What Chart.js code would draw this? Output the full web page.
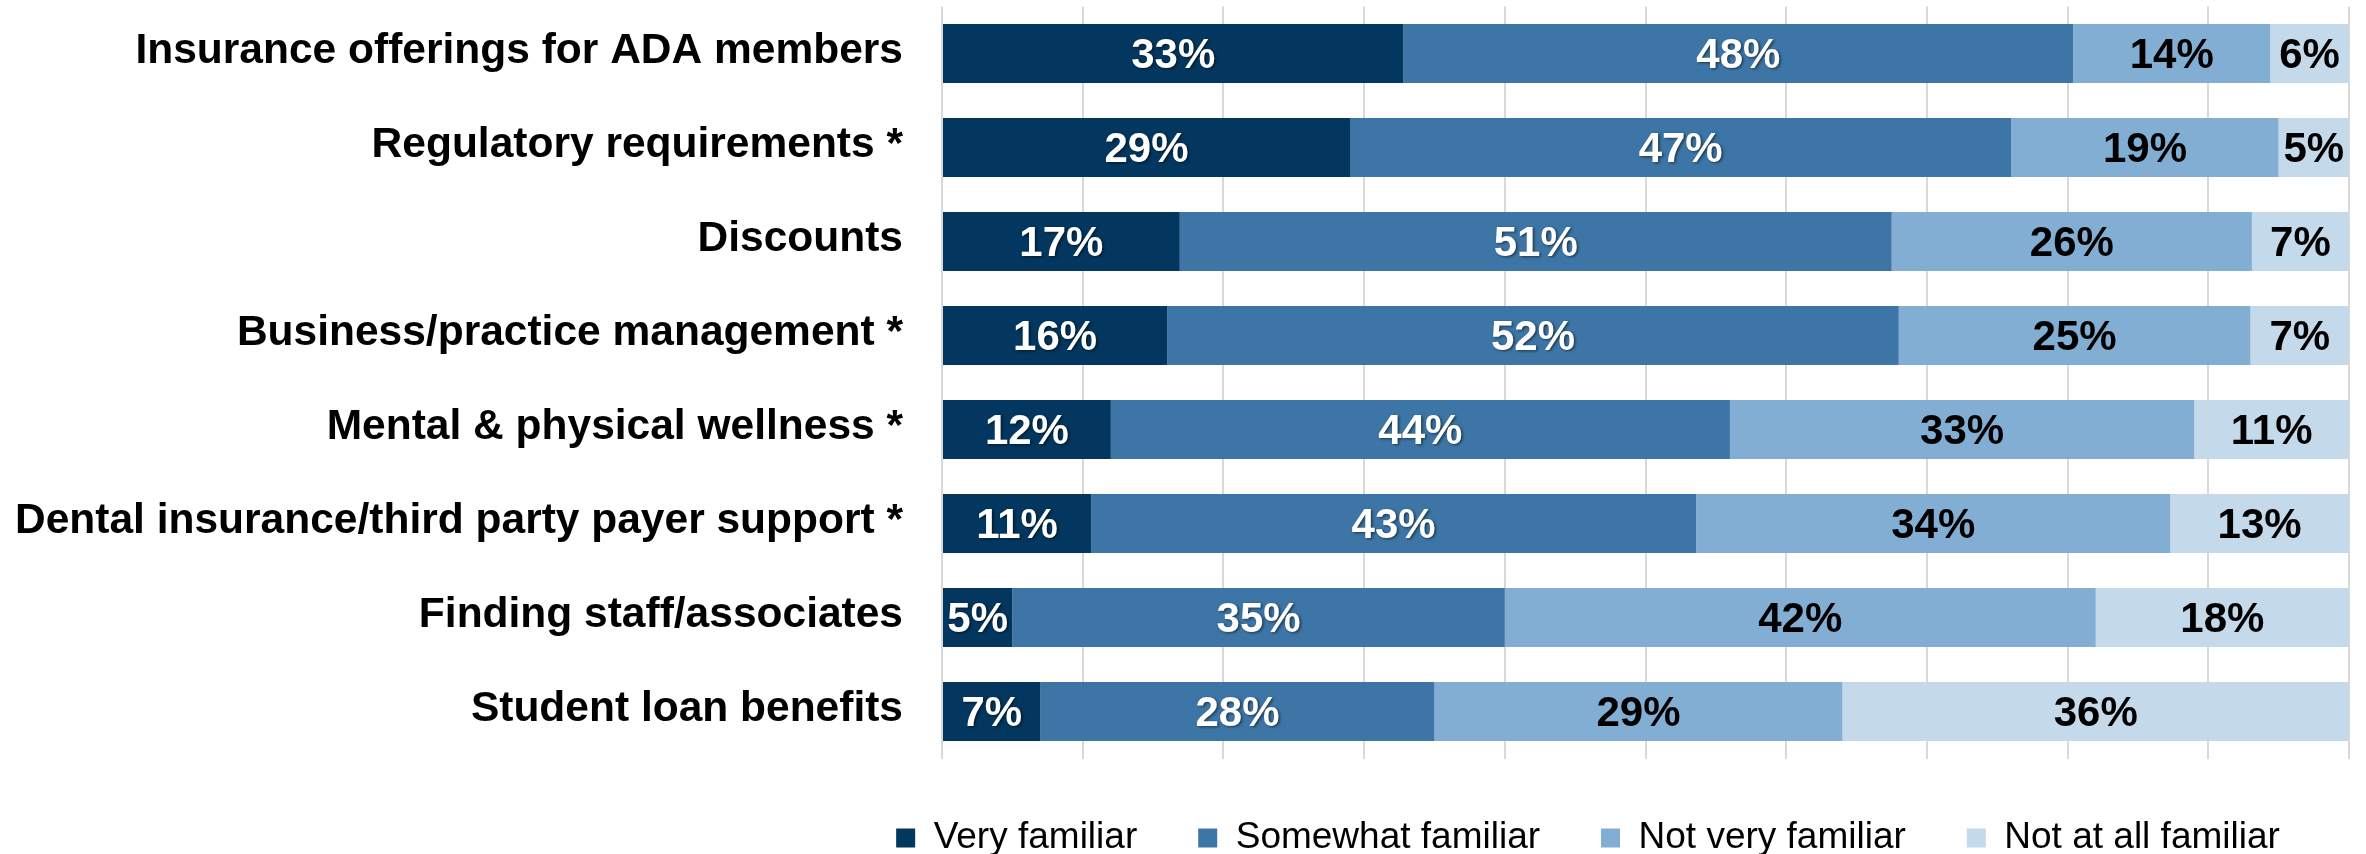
<!DOCTYPE html>
<html>
<head>
<meta charset="utf-8">
<script src="https://cdn.jsdelivr.net/npm/chart.js@4.4.1/dist/chart.umd.min.js"></script>
<style>
  html, body { margin: 0; padding: 0; background: #ffffff; }
  #wrap { width: 2366px; height: 854px; position: relative; }
</style>
</head>
<body>
<div id="wrap"><canvas id="chart" width="2366" height="854"></canvas></div>
<script>
// ---- Data ----
const categories = [
  "Insurance offerings for ADA members",
  "Regulatory requirements *",
  "Discounts",
  "Business/practice management *",
  "Mental & physical wellness *",
  "Dental insurance/third party payer support *",
  "Finding staff/associates",
  "Student loan benefits"
];
const seriesNames = ["Very familiar", "Somewhat familiar", "Not very familiar", "Not at all familiar"];
const veryFamiliar      = [32.8, 29, 16.9, 16, 12, 10.6, 5, 7];
const somewhatFamiliar  = [47.6, 47, 50.6, 52, 44, 43.0, 35, 28];
const notVeryFamiliar   = [14.0, 19, 25.6, 25, 33, 33.7, 42, 29];
const notAtAllFamiliar  = [5.6, 5, 6.9, 7, 11, 12.7, 18, 36];
const axisMin = 0;
const axisMax = 100;
const axisStep = 10;

// ---- Styles ----
const colors = ["#03375F", "#3D76A6", "#82AED3", "#C4D9EA"];
const labelColors = ["#ffffff", "#ffffff", "#000000", "#000000"];
const FONT = '"Liberation Sans", Arial, Helvetica, sans-serif';

const seriesValues = [veryFamiliar, somewhatFamiliar, notVeryFamiliar, notAtAllFamiliar];

const PLOT_LEFT = 942;
const LEGEND_LEFT = 827;

const valueLabels = {
  id: 'valueLabels',
  afterDatasetsDraw(chart) {
    const ctx = chart.ctx;
    const area = chart.chartArea;
    ctx.save();
    ctx.font = 'bold 42px ' + FONT;
    ctx.textAlign = 'center';
    ctx.textBaseline = 'middle';
    chart.data.datasets.forEach((ds, di) => {
      const meta = chart.getDatasetMeta(di);
      if (meta.hidden) return;
      meta.data.forEach((bar, i) => {
        const v = ds.data[i];
        const p = bar.getProps(['x', 'y', 'base'], true);
        const x0 = Math.max(Math.min(p.x, p.base), area.left);
        const x1 = Math.min(Math.max(p.x, p.base), area.right);
        const cx = (x0 + x1) / 2;
        if (labelColors[di] === '#ffffff') {
          ctx.shadowColor = 'rgba(0,0,0,0.55)';
          ctx.shadowBlur = 3;
          ctx.shadowOffsetX = 1.5;
          ctx.shadowOffsetY = 1.5;
        } else {
          ctx.shadowColor = 'rgba(0,0,0,0)';
          ctx.shadowBlur = 0;
          ctx.shadowOffsetX = 0;
          ctx.shadowOffsetY = 0;
        }
        ctx.fillStyle = labelColors[di];
        ctx.fillText(Math.round(v) + '%', cx, p.y + 2.5);
      });
    });
    ctx.restore();
  }
};

// shift the (centred) legend row so it sits under the plot like the original
const legendPlacement = {
  id: 'legendPlacement',
  afterLayout(chart) {
    if (chart.legend) { chart.legend.left = LEGEND_LEFT; }
  }
};

new Chart(document.getElementById('chart'), {
  type: 'bar',
  data: {
    labels: categories,
    datasets: seriesNames.map((name, i) => ({
      label: name,
      data: seriesValues[i],
      backgroundColor: colors[i],
      borderWidth: 0,
      barPercentage: 0.63,
      categoryPercentage: 1.0
    }))
  },
  options: {
    indexAxis: 'y',
    responsive: false,
    animation: false,
    devicePixelRatio: 1,
    layout: { padding: { left: 0, right: 17, top: 6.5, bottom: -12.5 } },
    scales: {
      x: {
        stacked: true,
        min: axisMin,
        max: axisMax,
        ticks: { display: false, stepSize: axisStep },
        grid: { color: '#D9D9D9', lineWidth: 2, drawTicks: false },
        border: { display: false },
        afterFit(scale) { scale.height = 0; }
      },
      y: {
        stacked: true,
        grid: { display: false, drawTicks: false },
        border: { display: false },
        ticks: {
          color: '#000000',
          padding: 39,
          labelOffset: -2,
          font: { family: FONT, size: 42.5, weight: 'bold' }
        },
        afterFit(scale) {
          scale.width = PLOT_LEFT;
          scale.paddingTop = 0;
          scale.paddingBottom = 0;
        }
      }
    },
    plugins: {
      legend: {
        position: 'bottom',
        align: 'center',
        labels: {
          color: '#000000',
          boxWidth: 19,
          boxHeight: 19,
          padding: 61,
          font: { family: FONT, size: 37 }
        }
      },
      tooltip: { enabled: false }
    }
  },
  plugins: [valueLabels, legendPlacement]
});
</script>
</body>
</html>
